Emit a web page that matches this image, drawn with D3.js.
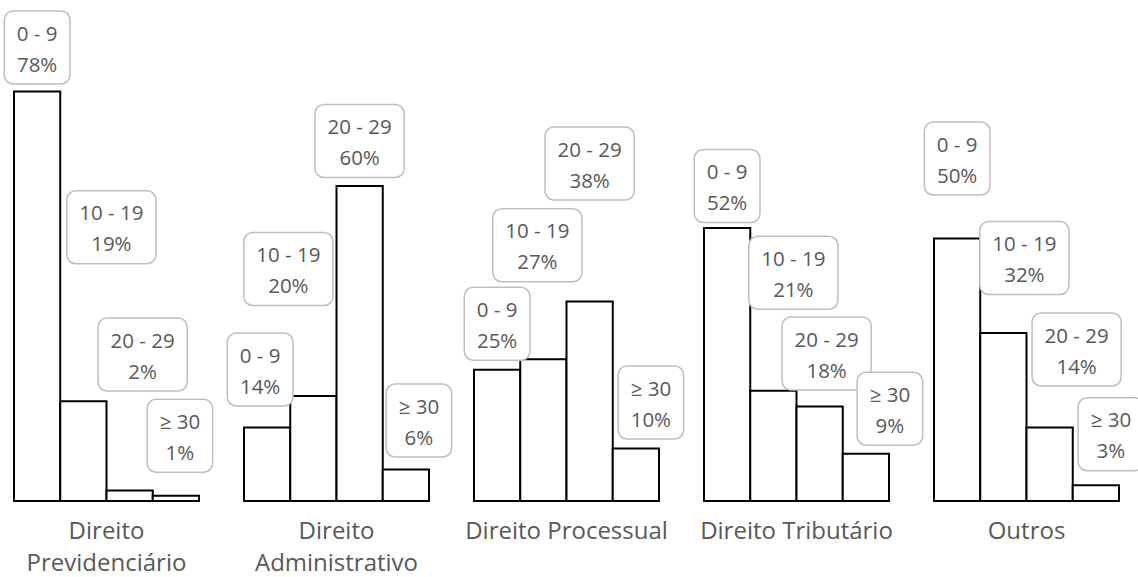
<!DOCTYPE html>
<html>
<head>
<meta charset="utf-8">
<script src="https://cdn.jsdelivr.net/npm/d3@7/dist/d3.min.js"></script>
<style>
  html, body { margin: 0; padding: 0; background: #ffffff; }
  svg { display: block; }
</style>
</head>
<body>
<svg id="chart" width="1138" height="577"></svg>
<script>
// Categories (areas of law) and age ranges
const categories = ["Direito Previdenciário", "Direito Administrativo", "Direito Processual", "Direito Tributário", "Outros"];
const ranges = ["0 - 9", "10 - 19", "20 - 29", "≥ 30"];

// Share of each range within each category (%)
const share0to9   = [78, 14, 25, 52, 50];
const share10to19 = [19, 20, 27, 21, 32];
const share20to29 = [2, 60, 38, 18, 14];
const share30plus = [1, 6, 10, 9, 3];
const seriesValues = [share0to9, share10to19, share20to29, share30plus];

// Callout placement: offset of each label box centre from the top-centre of its bar
const calloutOffsets = [
  [[0, -44], [-7, -58], [0, -46], [0, -42], [0, -80]],
  [[28, -174], [-25, -127], [-6, -114], [20, -118], [21, -75]],
  [[13, -136], [0, -45], [0, -138], [7, -53], [27, -78]],
  [[4, -60], [13, -49], [15, -46], [24, -45], [15, -51]]
];

const svg = d3.select("#chart");

const x0 = d3.scaleBand()
  .domain(categories)
  .range([14, 1119])
  .paddingInner(45 / 230)
  .paddingOuter(0);

const x1 = d3.scaleBand()
  .domain(ranges)
  .range([0, x0.bandwidth()]);

const y = d3.scaleLinear().domain([0, 100]).range([501, -24]);

const rows = [];
ranges.forEach((r, si) => {
  categories.forEach((c, ci) => {
    rows.push({ range: r, cat: c, si, ci, value: seriesValues[si][ci] });
  });
});

// Bars
const groups = svg.append("g").attr("class", "bars")
  .selectAll("g")
  .data(categories)
  .join("g")
  .attr("transform", d => `translate(${x0(d)},0)`);

groups.selectAll("rect")
  .data(c => rows.filter(r => r.cat === c))
  .join("rect")
  .attr("x", d => x1(d.range))
  .attr("y", d => y(d.value))
  .attr("width", x1.bandwidth())
  .attr("height", d => y(0) - y(d.value))
  .attr("fill", "#ffffff")
  .attr("stroke", "#000000")
  .attr("stroke-width", 2);

// Category labels, wrapped when wider than the group
const font = "'Open Sans', sans-serif";
const catLabels = svg.append("g").attr("class", "cat-labels")
  .attr("font-family", font)
  .attr("font-size", 24)
  .attr("fill", "#595959")
  .attr("text-anchor", "middle");

categories.forEach(c => {
  const cx = x0(c) + x0.bandwidth() / 2;
  const t = catLabels.append("text").attr("x", cx).attr("y", 539).text(c);
  if (t.node().getComputedTextLength() > 225) {
    const words = c.split(" ");
    t.text(null);
    words.forEach((w, i) => {
      t.append("tspan").attr("x", cx).attr("y", 539 + i * 32).text(w);
    });
  }
});

// Data callouts
const callouts = svg.append("g").attr("class", "callouts")
  .attr("font-family", font)
  .attr("font-size", 20.5)
  .attr("fill", "#595959")
  .attr("text-anchor", "middle");

rows.forEach(d => {
  const bx = x0(d.cat) + x1(d.range) + x1.bandwidth() / 2;
  const by = y(d.value);
  const [dx, dy] = calloutOffsets[d.si][d.ci];
  const cx = bx + dx, cy = by + dy;
  const g = callouts.append("g");
  const rect = g.append("rect");
  const t1 = g.append("text").attr("x", cx).attr("y", cy - 7).text(d.range);
  const t2 = g.append("text").attr("x", cx).attr("y", cy + 24).text(d3.format(".0f")(d.value) + "%");
  const w = Math.max(t1.node().getComputedTextLength(), t2.node().getComputedTextLength()) + 25;
  const h = 73;
  rect.attr("x", cx - w / 2).attr("y", cy - h / 2)
    .attr("width", w).attr("height", h)
    .attr("rx", 9).attr("ry", 9)
    .attr("fill", "#ffffff")
    .attr("stroke", "#bfbfbf")
    .attr("stroke-width", 1.5);
});
</script>
</body>
</html>
